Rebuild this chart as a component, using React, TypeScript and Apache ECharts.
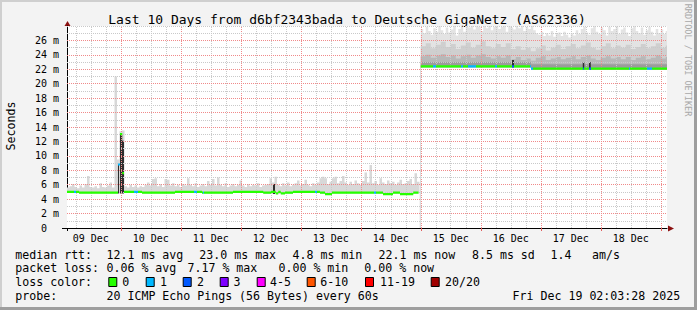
import React, { useEffect, useRef } from 'react';
import * as echarts from 'echarts';

// ---------- data ----------
const titleText = 'Last 10 Days from d6bf2343bada to Deutsche GigaNetz (AS62336)';
const yAxisName = 'Seconds';
const watermark = 'RRDTOOL / TOBI OETIKER';
const dayLabels = ['09 Dec', '10 Dec', '11 Dec', '12 Dec', '13 Dec', '14 Dec', '15 Dec', '16 Dec', '17 Dec', '18 Dec'];
// x values are hours since 09 Dec 00:00
const X_MIN = 2.5;
const X_MAX = 242.5;
const Y_MAX = 28;

// hourly maximum ping (top of smoke), left period (from hour 2.5)
const smokeLeftStart = 2.5;
const smokeLeftHigh = [
  5.6, 5.8, 6.1, 5.7, 5.5, 5.9, 5.6, 6.1, 7.2, 5.7,
  5.6, 5.8, 5.5, 6.2, 5.7, 5.6, 5.9, 6.3, 5.6, 21.0,
  9.5, 13.4, 13.5, 5.8, 5.6, 6.0, 5.7, 5.9, 5.6, 5.8,
  5.7, 6.0, 6.3, 5.9, 6.8, 6.9, 5.8, 6.1, 5.7, 6.8,
  6.7, 5.9, 6.2, 5.8, 6.0, 5.7, 6.1, 5.9, 6.9, 6.0,
  5.8, 6.2, 5.7, 5.9, 6.1, 5.8, 6.5, 6.0, 6.8, 5.9,
  7.0, 6.0, 5.8, 6.2, 5.7, 5.9, 6.1, 5.8, 6.0, 6.6,
  5.9, 5.7, 6.1, 5.8, 6.0, 5.9, 6.2, 5.7, 5.9, 6.0,
  6.1, 6.9, 6.3, 7.1, 6.0, 5.8, 6.2, 5.9, 6.3, 5.8,
  6.0, 6.2, 6.6, 5.9, 6.1, 6.7, 6.0, 5.8, 6.2, 6.0,
  6.3, 6.9, 7.1, 6.9, 6.1, 6.4, 6.9, 7.1, 6.2, 6.5,
  7.2, 6.3, 6.0, 6.4, 6.1, 6.6, 6.2, 6.0, 6.5, 7.7,
  6.3, 8.75, 6.2, 6.5, 6.0, 6.9, 6.3, 6.1, 6.6, 6.2,
  6.4, 6.0, 6.3, 6.7, 6.1, 6.2, 6.5, 6.8, 6.1, 7.6,
  6.4,
];
// hourly maximum ping, right period (from hour 144)
const smokeRightStart = 144;
const smokeRightHigh = [
  27.6, 27.0, 27.9, 27.3, 26.8, 27.7, 27.2, 28.0, 27.4, 26.9,
  27.8, 27.1, 27.5, 28.0, 26.7, 27.6, 27.9, 27.2, 28.0, 27.8,
  28.0, 27.5, 28.0, 27.9, 27.3, 28.0, 27.7, 28.0, 27.4, 27.9,
  28.0, 27.6, 27.9, 28.0, 27.2, 28.0, 27.8, 27.5, 28.0, 27.7,
  28.0, 27.3, 27.9, 27.6, 28.0, 27.4, 27.0, 26.8, 27.2, 26.6,
  27.0, 26.7, 27.3, 26.5, 26.9, 27.1, 26.6, 27.2, 26.8, 26.4,
  27.0, 26.7, 27.4, 26.9, 27.6, 27.9, 27.1, 26.8, 27.7, 28.0,
  27.2, 26.9, 27.8, 27.4, 26.7, 27.9, 27.3, 27.6, 28.0, 26.9,
  27.5, 27.8, 27.1, 26.6, 27.7, 28.0, 27.3, 27.0, 27.8, 26.8,
  27.4, 27.9, 27.2, 26.7, 27.6, 27.0, 27.5, 26.9, 27.3,
];
// two-hourly smoke bands (outer quantiles), right period
const smokeBandStart = 144;
const smokeBand1 = [
  25.2, 25.6, 24.9, 25.4, 25.8, 25.1, 25.5, 24.8, 25.3, 25.7,
  25.0, 25.4, 25.9, 25.2, 24.9, 25.5, 25.1, 25.6, 24.8, 25.2,
  24.7, 25.0, 24.5, 24.9, 25.3, 24.6, 25.0, 25.4, 24.8, 25.2,
  25.5, 24.9, 25.3, 25.7, 25.0, 24.7, 25.2, 25.6, 24.9, 25.3,
  25.0, 25.4, 24.8, 25.1, 25.5, 24.9, 25.2, 25.6, 25.0, 25.3,
];
const smokeBand2 = [
  23.8, 24.0, 23.6, 23.9, 24.1, 23.7, 23.9, 23.5, 23.8, 24.0,
  23.6, 23.9, 24.1, 23.7, 23.5, 23.8, 23.6, 23.9, 23.4, 23.7,
  23.3, 23.5, 23.2, 23.6, 23.8, 23.3, 23.5, 23.7, 23.4, 23.6,
  23.8, 23.4, 23.7, 23.9, 23.5, 23.3, 23.6, 23.8, 23.5, 23.7,
  23.4, 23.7, 23.3, 23.6, 23.8, 23.4, 23.6, 23.9, 23.5, 23.7,
];
// [startHour, endHour, ms]
const smokeBand3 = [
  [144.0, 188.1, 23.0],
  [188.1, 243.0, 22.7],
];
const smokeDark = [
  [22.9, 23.3, 8.8],
  [23.7, 24.6, 12.9],
  [24.6, 25.3, 12.1],
  [84.9, 85.7, 6.1],
  [180.5, 181.3, 23.3],
  [208.8, 209.4, 23.0],
  [211.3, 212.0, 23.0],
];
const minRtt = [
  [2.5, 7.3, 4.88], [7.3, 25.3, 4.78], [25.3, 32.5, 4.88], [32.5, 45.7, 4.78],
  [45.7, 56.5, 4.88], [56.5, 68.9, 4.78], [68.9, 81.0, 4.88], [81.0, 92.9, 4.7],
  [92.9, 103.7, 4.88], [103.7, 105.7, 4.78], [105.7, 108.5, 4.58], [108.5, 128.9, 4.78],
  [128.9, 132.9, 4.58], [132.9, 135.7, 4.78], [135.7, 141.0, 4.58], [141.0, 143.5, 4.78],
  [144.0, 188.1, 22.25], [188.1, 243.0, 21.95],
];
const medianRtt = [
  [2.5, 7.3, 5.0], [7.3, 22.9, 4.9], [22.9, 23.7, 8.8], [23.7, 24.6, 13.0],
  [24.6, 25.3, 7.6], [25.3, 32.5, 5.0], [32.5, 45.7, 4.9], [45.7, 56.5, 5.0],
  [56.5, 68.9, 4.9], [68.9, 81.0, 5.0], [81.0, 84.1, 4.9], [84.1, 86.0, 5.0],
  [86.0, 87.0, 4.8], [87.0, 88.0, 5.0], [88.0, 89.7, 4.8], [89.7, 92.9, 4.9],
  [92.9, 103.7, 5.0], [103.7, 105.7, 4.9], [105.7, 108.5, 4.7], [108.5, 128.9, 4.9],
  [128.9, 132.9, 4.7], [132.9, 135.7, 4.9], [135.7, 141.0, 4.7], [141.0, 143.1, 4.9],
  [144.0, 188.1, 22.4], [188.1, 242.5, 22.1],
];
// [startHour, endHour, lost pings]
const lossEvents = [
  [5.4, 6.1, 1], [22.9, 23.7, 1], [29.3, 30.9, 1], [53.3, 54.5, 1], [56.9, 57.4, 1],
  [101.7, 102.3, 1], [125.5, 126.0, 1], [148.9, 150.1, 1], [160.0, 161.0, 1],
  [163.0, 166.0, 1], [173.7, 174.5, 1], [180.5, 181.3, 2], [187.7, 189.0, 1],
  [208.8, 209.4, 2], [211.3, 212.0, 2], [227.3, 227.8, 1], [234.4, 236.4, 1],
];
const lossLegendLabels = ['0', '1', '2', '3', '4-5', '6-10', '11-19', '20/20'];
const lossLegendColors = ['#26ff00', '#00b8ff', '#0059ff', '#7e00ff', '#ff00ff', '#ff5500', '#ff0000', '#a00000'];
const rttStats = ['median rtt:', '12.1 ms avg', '23.0 ms max', '4.8 ms min', '22.1 ms now', '8.5 ms sd', '1.4', 'am/s'];
const lossStats = ['packet loss:', '0.06 % avg', '7.17 % max', '0.00 % min', '0.00 % now'];
const lossColorTitle = 'loss color:';
const probeLine = ['probe:', '20 ICMP Echo Pings (56 Bytes) every 60s', 'Fri Dec 19 02:03:28 2025'];

// ---------- helpers ----------
const FONT = '"DejaVu Sans Mono", monospace';

function stepsToSegs(start: number, step: number, vals: number[]) {
  return vals.map((v, i) => [start + i * step, start + (i + 1) * step, v]);
}
// staircase outline (for filled smoke areas)
function segsToLine(segs: number[][]) {
  const out: any[] = [];
  segs.forEach((s, i) => {
    if (i > 0 && Math.abs(segs[i - 1][1] - s[0]) > 1e-6) out.push([s[0], '-']);
    out.push([s[0], s[2]], [s[1], s[2]]);
  });
  return out;
}
// horizontal pieces only (median line, no vertical risers)
function segsToPieces(segs: number[][]) {
  const out: any[] = [];
  segs.forEach((s, i) => {
    if (i > 0) out.push([s[0], '-']);
    out.push([s[0], s[2]], [s[1], s[2]]);
  });
  return out;
}
function lossColor(n: number) {
  if (n <= 0) return lossLegendColors[0];
  if (n === 1) return lossLegendColors[1];
  if (n === 2) return lossLegendColors[2];
  if (n === 3) return lossLegendColors[3];
  if (n <= 5) return lossLegendColors[4];
  if (n <= 10) return lossLegendColors[5];
  if (n <= 19) return lossLegendColors[6];
  return lossLegendColors[7];
}

function txt(text: string, x: number, y: number, size: number, extra: any = {}, rotation = 0) {
  return {
    type: 'text', x, y, rotation, silent: true,
    style: {
      text, fontFamily: FONT, fontSize: size, fill: '#000',
      align: 'left', verticalAlign: 'middle', textAlign: 'left', textVerticalAlign: 'middle',
      ...extra,
    },
  };
}

export default function App() {
  const ref = useRef<HTMLDivElement>(null);

  useEffect(() => {
    document.body.style.margin = '0';
    if (!ref.current) return;
    const chart = echarts.init(ref.current, undefined, { renderer: 'svg' });

    const GRID = { left: 67, top: 26, width: 600, height: 202 };

    const area = (data: any[], color: string) => ({
      type: 'line', data, symbol: 'none', showSymbol: false, silent: true,
      lineStyle: { width: 0 }, areaStyle: { color, opacity: 1 }, z: 2,
    });

    // grid lines
    const gridLines: any[] = [];
    for (let h = 6; h <= X_MAX; h += 6) {
      const major = h % 24 === 0;
      gridLines.push({ xAxis: h, lineStyle: { color: major ? '#f08a8a' : '#c9c9c9', type: [1, 1], width: 1 } });
    }
    for (let v = 1; v <= Y_MAX; v += 1) {
      const major = v % 2 === 0 && v < Y_MAX;
      gridLines.push({ yAxis: v, lineStyle: { color: major ? '#f08a8a' : '#c9c9c9', type: [1, 1], width: 1 } });
    }

    const series: any[] = [
      area(segsToLine(stepsToSegs(smokeLeftStart, 1, smokeLeftHigh)), '#d8d8d8'),
      area(segsToLine(stepsToSegs(smokeRightStart, 1, smokeRightHigh)), '#e3e3e3'),
      area(segsToLine(stepsToSegs(smokeBandStart, 2, smokeBand1)), '#cfcfcf'),
      area(segsToLine(stepsToSegs(smokeBandStart, 2, smokeBand2)), '#b8b8b8'),
      area(segsToLine(smokeBand3), '#9c9c9c'),
      area(segsToLine(smokeDark), '#2e2e2e'),
      {
        ...area(segsToLine(minRtt), '#ffffff'),
        markLine: {
          silent: true, symbol: ['none', 'none'], label: { show: false },
          animation: false, z: 5, data: gridLines,
        },
      },
      {
        type: 'line', data: segsToPieces(medianRtt), symbol: 'none', showSymbol: false,
        silent: true, z: 6, lineStyle: { width: 2.2, cap: 'butt' },
      },
    ];
    const medianIndex = series.length - 1;

    const dayTicks = dayLabels.map((_, k) => 24 * (k + 1));
    const labelVals = dayLabels.map((_, k) => 12 + 24 * k);

    const graphic: any[] = [];
    // frame
    graphic.push({ type: 'rect', silent: true, shape: { x: 0, y: 0, width: 697, height: 2 }, style: { fill: '#cfcfcf' } });
    graphic.push({ type: 'rect', silent: true, shape: { x: 0, y: 0, width: 2, height: 310 }, style: { fill: '#cfcfcf' } });
    graphic.push({ type: 'rect', silent: true, shape: { x: 694, y: 0, width: 3, height: 310 }, style: { fill: '#9e9e9e' } });
    graphic.push({ type: 'rect', silent: true, shape: { x: 0, y: 307, width: 697, height: 3 }, style: { fill: '#9e9e9e' } });
    // title etc
    graphic.push(txt(titleText, 347, 19, 13, { align: 'center', textAlign: 'center' }));
    graphic.push(txt(yAxisName, 11, 126, 11.6, { align: 'center', textAlign: 'center' }, Math.PI / 2));
    graphic.push(txt(watermark, 688, 60, 8.5, { align: 'center', textAlign: 'center', fill: '#a8a8a8' }, -Math.PI / 2));
    // axis arrows / extensions
    const gx = GRID.left, gy = GRID.top + GRID.height;
    graphic.push({ type: 'line', silent: true, shape: { x1: gx - 5, y1: gy + 0.5, x2: gx, y2: gy + 0.5 }, style: { stroke: '#000', lineWidth: 1 } });
    graphic.push({ type: 'line', silent: true, shape: { x1: gx + 0.5, y1: gy, x2: gx + 0.5, y2: gy + 3 }, style: { stroke: '#000', lineWidth: 1 } });
    graphic.push({ type: 'polygon', silent: true, shape: { points: [[gx - 2.5, GRID.top], [gx + 3.5, GRID.top], [gx + 0.5, GRID.top - 5]] }, style: { fill: '#8b1010' } });
    const ex = GRID.left + GRID.width;
    graphic.push({ type: 'polygon', silent: true, shape: { points: [[ex + 1, gy - 2.5], [ex + 1, gy + 3.5], [ex + 7, gy + 0.5]] }, style: { fill: '#8b1010' } });

    // legend
    const L1 = 254.6, L2 = 268.3, L3 = 282.1, L4 = 295.9;
    const rttX = [15.3, 106.5, 199.3, 292.5, 378.5, 472, 550.5, 592];
    rttStats.forEach((s, i) => graphic.push(txt(s, rttX[i], L1, 11.6)));
    const lossX = [15.3, 106.5, 187.5, 278.5, 364.3];
    lossStats.forEach((s, i) => graphic.push(txt(s, lossX[i], L2, 11.6)));
    graphic.push(txt(lossColorTitle, 15.3, L3, 11.6));
    const boxX = [108.3, 145.7, 182.7, 219.7, 256.7, 306.7, 365, 430.7];
    const labX = [122.3, 160, 197, 233.6, 270, 320.3, 380, 445];
    lossLegendLabels.forEach((s, i) => {
      graphic.push({ type: 'rect', silent: true, shape: { x: boxX[i] + 0.5, y: 277.5, width: 8, height: 9 }, style: { fill: lossLegendColors[i], stroke: '#000', lineWidth: 1 } });
      graphic.push(txt(s, labX[i], L3, 11.6));
    });
    const probeX = [15.3, 106.5, 512.6];
    probeLine.forEach((s, i) => graphic.push(txt(s, probeX[i], L4, 11.6)));

    chart.setOption({
      animation: false,
      backgroundColor: '#f3f3f3',
      grid: { ...GRID, show: true, backgroundColor: '#ffffff', borderWidth: 0 },
      xAxis: {
        type: 'value', min: X_MIN, max: X_MAX,
        axisLine: { show: true, lineStyle: { color: '#000', width: 1 } },
        axisTick: { show: true, customValues: dayTicks, length: 3, lineStyle: { color: '#e06060' } },
        axisLabel: {
          customValues: labelVals,
          formatter: (v: number) => dayLabels[Math.round((v - 12) / 24)] ?? '',
          fontFamily: FONT, fontSize: 10, color: '#000', margin: 5,
        },
        splitLine: { show: false },
      },
      yAxis: {
        type: 'value', min: 0, max: Y_MAX, interval: 2,
        axisLine: { show: true, lineStyle: { color: '#000', width: 1 } },
        axisTick: { show: false },
        splitLine: { show: false },
        axisLabel: {
          showMaxLabel: false, margin: 8, fontFamily: FONT, fontSize: 10, color: '#000',
          formatter: (v: number) => (v === 0 ? '{z|0}' : `${v} m`),
          rich: { z: { fontFamily: FONT, fontSize: 10, color: '#000', padding: [0, 12, 0, 0] } },
        },
      },
      visualMap: {
        type: 'piecewise', show: false, dimension: 0, seriesIndex: medianIndex,
        pieces: lossEvents.map(([s, e, n]) => ({ gte: s, lt: e, color: lossColor(n) })),
        outOfRange: { color: lossLegendColors[0] },
      },
      series,
      graphic,
    });

    return () => chart.dispose();
  }, []);

  return <div ref={ref} style={{ width: 697, height: 310 }} />;
}
